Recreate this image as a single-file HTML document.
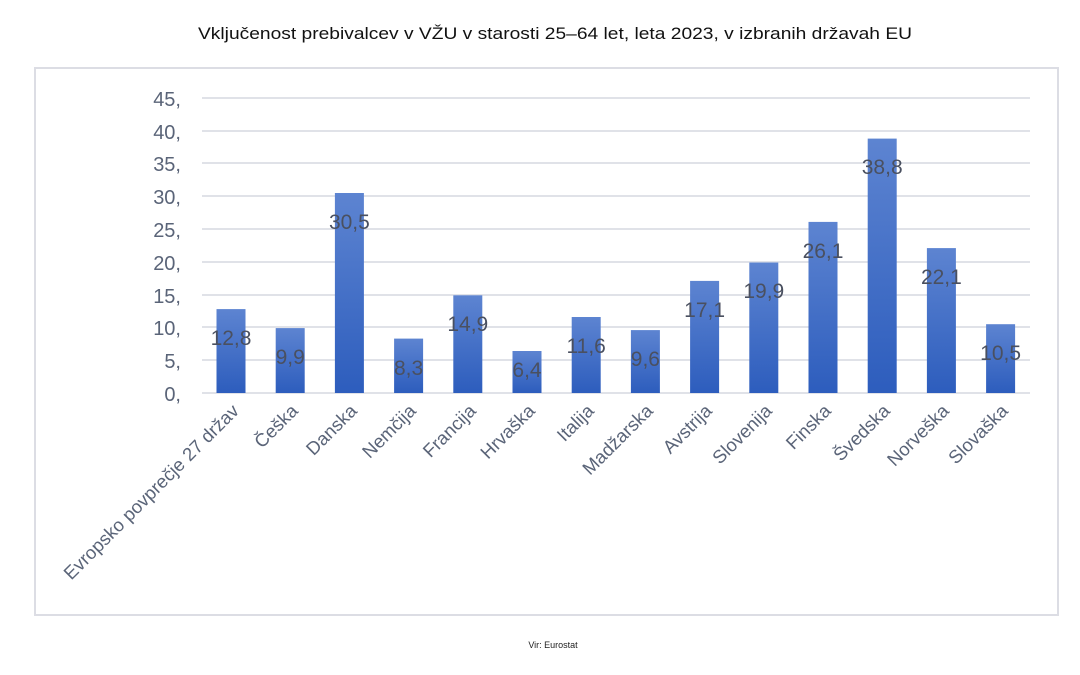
<!DOCTYPE html>
<html><head><meta charset="utf-8"><style>html,body{margin:0;padding:0;background:#fff}svg{display:block}</style></head>
<body>
<svg width="1080" height="675" xmlns="http://www.w3.org/2000/svg" font-family="Liberation Sans, DejaVu Sans, sans-serif">
<defs><linearGradient id="g" x1="0" y1="0" x2="0" y2="1"><stop offset="0" stop-color="#5d84d1"/><stop offset="1" stop-color="#2d5dbd"/></linearGradient></defs>
<rect width="1080" height="675" fill="#fff"/>
<text x="555" y="39" font-size="17" text-anchor="middle" fill="#111" textLength="714" lengthAdjust="spacingAndGlyphs">Vključenost prebivalcev v VŽU v starosti 25–64 let, leta 2023, v izbranih državah EU</text>
<rect x="35" y="68" width="1023" height="547" fill="none" stroke="#dcdde4" stroke-width="2"/>
<g stroke="#e0e2e8" stroke-width="2">
<line x1="202" x2="1030" y1="98" y2="98"/><line x1="202" x2="1030" y1="131" y2="131"/><line x1="202" x2="1030" y1="163" y2="163"/><line x1="202" x2="1030" y1="196" y2="196"/><line x1="202" x2="1030" y1="229" y2="229"/><line x1="202" x2="1030" y1="262" y2="262"/><line x1="202" x2="1030" y1="295" y2="295"/><line x1="202" x2="1030" y1="327" y2="327"/><line x1="202" x2="1030" y1="360" y2="360"/><line x1="202" x2="1030" y1="393" y2="393"/>
</g>
<g font-size="20" fill="#5a6478" text-anchor="end">
<text x="181" y="106">45,</text><text x="181" y="139">40,</text><text x="181" y="171">35,</text><text x="181" y="204">30,</text><text x="181" y="237">25,</text><text x="181" y="270">20,</text><text x="181" y="303">15,</text><text x="181" y="335">10,</text><text x="181" y="368">5,</text><text x="181" y="401">0,</text>
</g>
<g fill="url(#g)">
<rect x="216.5" y="309.1" width="29" height="83.9"/>
<rect x="275.7" y="328.1" width="29" height="64.9"/>
<rect x="334.9" y="193.0" width="29" height="200"/>
<rect x="394.1" y="338.6" width="29" height="54.4"/>
<rect x="453.3" y="295.3" width="29" height="97.7"/>
<rect x="512.5" y="351.0" width="29" height="42"/>
<rect x="571.7" y="317.0" width="29" height="76"/>
<rect x="630.9" y="330.1" width="29" height="62.9"/>
<rect x="690.1" y="280.9" width="29" height="112.1"/>
<rect x="749.3" y="262.5" width="29" height="130.5"/>
<rect x="808.5" y="221.9" width="29" height="171.1"/>
<rect x="867.7" y="138.6" width="29" height="254.4"/>
<rect x="926.9" y="248.1" width="29" height="144.9"/>
<rect x="986.1" y="324.2" width="29" height="68.8"/>
</g>
<g font-size="21" fill="#4a5060" text-anchor="middle">
<text x="231" y="345">12,8</text><text x="290.2" y="364">9,9</text><text x="349.4" y="229">30,5</text><text x="408.6" y="375">8,3</text><text x="467.8" y="331">14,9</text><text x="527" y="377">6,4</text><text x="586.2" y="353">11,6</text><text x="645.4" y="366">9,6</text><text x="704.6" y="317">17,1</text><text x="763.8" y="298">19,9</text><text x="823" y="258">26,1</text><text x="882.2" y="174">38,8</text><text x="941.4" y="284">22,1</text><text x="1000.6" y="360">10,5</text>
</g>
<g font-size="18.5" fill="#5a6478" text-anchor="end">
<text transform="translate(240,412) rotate(-45)">Evropsko povprečje 27 držav</text>
<text transform="translate(299,412) rotate(-45)">Češka</text>
<text transform="translate(358,412) rotate(-45)">Danska</text>
<text transform="translate(417,412) rotate(-45)">Nemčija</text>
<text transform="translate(477,412) rotate(-45)">Francija</text>
<text transform="translate(536,412) rotate(-45)">Hrvaška</text>
<text transform="translate(595,412) rotate(-45)">Italija</text>
<text transform="translate(654,412) rotate(-45)">Madžarska</text>
<text transform="translate(713,412) rotate(-45)">Avstrija</text>
<text transform="translate(773,412) rotate(-45)">Slovenija</text>
<text transform="translate(832,412) rotate(-45)">Finska</text>
<text transform="translate(891,412) rotate(-45)">Švedska</text>
<text transform="translate(950,412) rotate(-45)">Norveška</text>
<text transform="translate(1009,412) rotate(-45)">Slovaška</text>
</g>
<text x="553" y="648" font-size="9" text-anchor="middle" fill="#222">Vir: Eurostat</text>
</svg>
</body></html>
